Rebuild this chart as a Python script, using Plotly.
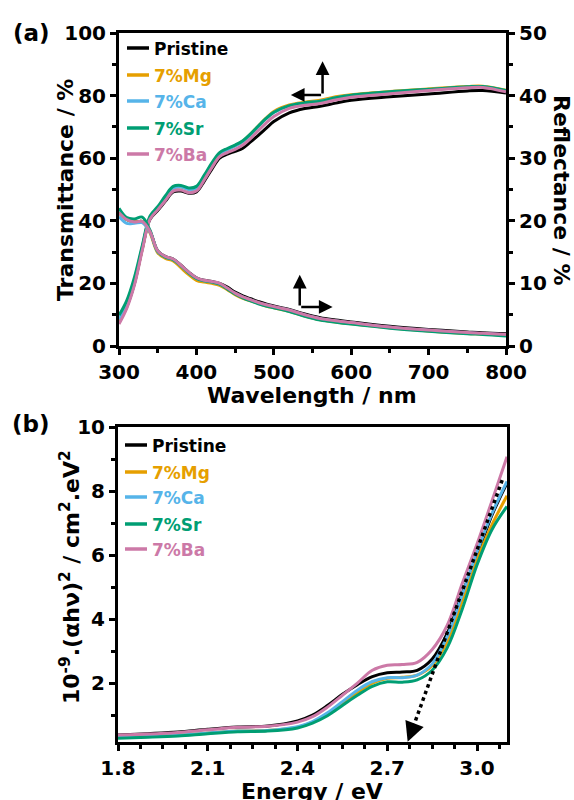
import plotly.graph_objects as go

# ---------------- data ----------------
series_names = ["Pristine", "7%Mg", "7%Ca", "7%Sr", "7%Ba"]
series_colors = ["#000000", "#E69F00", "#56B4E9", "#009E73", "#CC79A7"]

wavelength = [300, 310, 320, 330, 340, 350, 360, 370, 380, 390, 400, 410, 420, 430, 440,
              450, 460, 470, 480, 490, 500, 520, 540, 560, 580, 600, 650, 700, 750, 770, 800]

trans_pristine = [7.5, 12.5, 20.0, 31.0, 40.5, 43.3, 46.3, 49.2, 49.5, 48.8, 49.2, 52.6, 56.5, 60.0, 61.3,
                  62.2, 63.2, 65.2, 67.3, 69.5, 71.7, 74.5, 75.9, 76.6, 77.6, 78.5, 79.6, 80.5, 81.5, 81.6, 80.8]
trans_mg = [8.0, 13.0, 20.5, 31.0, 41.0, 44.0, 47.3, 50.4, 50.8, 50.0, 50.5, 54.0, 58.0, 61.3, 62.8,
            64.0, 65.4, 67.7, 70.3, 72.8, 74.9, 77.0, 77.9, 78.5, 79.6, 80.3, 81.3, 82.1, 82.9, 83.0, 81.7]
trans_ca = [8.5, 13.5, 21.0, 31.5, 41.0, 44.0, 47.3, 50.4, 50.8, 50.0, 50.5, 54.0, 58.0, 61.3, 62.7,
            63.9, 65.3, 67.5, 70.1, 72.6, 74.6, 76.7, 77.6, 78.2, 79.3, 80.0, 81.1, 81.9, 82.7, 82.8, 81.5]
trans_sr = [9.8, 14.5, 22.0, 32.0, 41.5, 44.5, 48.0, 51.0, 51.3, 50.5, 51.0, 54.5, 58.5, 61.8, 63.1,
            64.2, 65.6, 67.8, 70.3, 72.7, 74.7, 76.8, 77.7, 78.2, 79.3, 80.1, 81.2, 82.0, 82.8, 82.9, 81.6]
trans_ba = [7.0, 12.0, 19.5, 30.5, 40.5, 43.5, 46.5, 49.5, 49.8, 49.0, 49.5, 53.0, 57.0, 60.5, 61.8,
            62.8, 64.2, 66.3, 68.8, 71.2, 73.3, 75.9, 76.9, 77.5, 78.6, 79.5, 80.6, 81.6, 82.5, 82.6, 81.2]

refl_pristine = [21.3, 20.2, 19.8, 19.9, 18.3, 15.2, 14.3, 13.9, 12.9, 11.8, 10.9, 10.5, 10.3, 10.0, 9.4,
                 8.6, 8.0, 7.55, 7.1, 6.7, 6.4, 5.85, 5.1, 4.5, 4.15, 3.85, 3.15, 2.65, 2.25, 2.1, 1.95]
refl_mg = [21.3, 20.2, 19.8, 19.9, 18.1, 14.9, 14.0, 13.6, 12.5, 11.4, 10.5, 10.2, 10.0, 9.7, 9.0,
           8.2, 7.6, 7.2, 6.8, 6.4, 6.1, 5.55, 4.8, 4.2, 3.85, 3.55, 2.9, 2.4, 2.0, 1.9, 1.7]
refl_ca = [20.7, 19.6, 19.6, 19.7, 18.2, 15.1, 14.2, 13.8, 12.8, 11.7, 10.8, 10.4, 10.2, 9.9, 9.2,
           8.4, 7.8, 7.35, 6.9, 6.55, 6.25, 5.7, 4.95, 4.35, 4.0, 3.7, 3.0, 2.5, 2.1, 2.0, 1.8]
refl_sr = [22.0, 20.5, 20.3, 20.6, 18.5, 15.1, 14.2, 13.8, 12.8, 11.7, 10.8, 10.4, 10.2, 9.9, 9.1,
           8.3, 7.7, 7.2, 6.75, 6.4, 6.1, 5.5, 4.75, 4.15, 3.8, 3.5, 2.85, 2.35, 1.95, 1.85, 1.6]
refl_ba = [21.3, 20.2, 19.8, 19.9, 18.3, 15.2, 14.3, 13.9, 12.9, 11.8, 10.9, 10.5, 10.3, 10.0, 9.25,
           8.45, 7.85, 7.4, 6.95, 6.6, 6.3, 5.75, 5.0, 4.4, 4.05, 3.75, 3.05, 2.55, 2.15, 2.05, 1.85]

energy = [1.8, 1.9, 2.0, 2.1, 2.2, 2.3, 2.4, 2.45, 2.5, 2.55, 2.6, 2.65, 2.7, 2.75, 2.8,
          2.85, 2.9, 2.95, 3.0, 3.05, 3.1]
tauc_pristine = [0.38, 0.42, 0.47, 0.56, 0.63, 0.66, 0.82, 1.0, 1.3, 1.65, 1.95, 2.2, 2.32, 2.35, 2.4,
                 2.75, 3.55, 4.8, 6.0, 7.25, 8.25]
tauc_mg = [0.30, 0.33, 0.37, 0.44, 0.50, 0.52, 0.62, 0.78, 1.02, 1.35, 1.7, 2.0, 2.15, 2.18, 2.25,
           2.55, 3.3, 4.55, 5.85, 6.95, 7.85]
tauc_ca = [0.30, 0.33, 0.37, 0.44, 0.50, 0.52, 0.64, 0.80, 1.07, 1.42, 1.78, 2.05, 2.17, 2.17, 2.25,
           2.6, 3.45, 4.75, 6.1, 7.3, 8.3]
tauc_sr = [0.28, 0.31, 0.35, 0.42, 0.48, 0.50, 0.60, 0.75, 0.98, 1.3, 1.62, 1.9, 2.04, 2.03, 2.1,
           2.4, 3.1, 4.3, 5.7, 6.8, 7.52]
tauc_ba = [0.38, 0.41, 0.46, 0.54, 0.62, 0.65, 0.78, 0.95, 1.25, 1.62, 2.0, 2.4, 2.56, 2.58, 2.65,
           3.05, 3.8, 5.1, 6.35, 7.7, 9.07]

# tangent (band-gap extrapolation): start, end of dotted part, arrow tip
tangent_energy = [3.084, 2.787]
tangent_value = [8.34, 0.64]
tangent_tip = (2.768, 0.17)

x_ticks_a = [300, 400, 500, 600, 700, 800]
x_ticks_b = [1.8, 2.1, 2.4, 2.7, 3.0]

transmittance = [trans_pristine, trans_mg, trans_ca, trans_sr, trans_ba]
reflectance = [refl_pristine, refl_mg, refl_ca, refl_sr, refl_ba]
tauc = [tauc_pristine, tauc_mg, tauc_ca, tauc_sr, tauc_ba]

# ---------------- figure ----------------
FONT = "DejaVu Sans, Liberation Sans, Arial, sans-serif"
W, H = 574, 800

def px_x(p):
    return p / W

def px_y(p):
    return 1 - p / H

fig = go.Figure()
LW = 3

for name, col, t in zip(series_names, series_colors, transmittance):
    fig.add_trace(go.Scatter(x=wavelength, y=t, mode="lines", line=dict(color=col, width=LW, shape="spline"),
                             xaxis="x", yaxis="y", showlegend=False, name=name))
for name, col, r in zip(series_names, series_colors, reflectance):
    fig.add_trace(go.Scatter(x=wavelength, y=r, mode="lines", line=dict(color=col, width=LW, shape="spline"),
                             xaxis="x", yaxis="y2", showlegend=False, name=name))
for name, col, t in zip(series_names, series_colors, tauc):
    fig.add_trace(go.Scatter(x=energy, y=t, mode="lines", line=dict(color=col, width=LW, shape="spline"),
                             xaxis="x2", yaxis="y3", showlegend=False, name=name))

fig.add_trace(go.Scatter(x=tangent_energy, y=tangent_value, mode="lines",
                         line=dict(color="black", width=3.5, dash="dot"),
                         xaxis="x2", yaxis="y3", showlegend=False, cliponaxis=False))

tickfont = dict(family=FONT, size=20, color="black", weight="bold")
axis_common = dict(showline=True, linecolor="black", linewidth=3, ticks="outside", ticklen=6,
                   tickwidth=3, tickcolor="black", tickfont=tickfont, showgrid=False, zeroline=False,
                   automargin=False)

top_dom = [px_y(346), px_y(33)]
bot_dom = [px_y(742), px_y(427)]

fig.update_layout(
    template="none",
    width=W, height=H, margin=dict(l=0, r=0, t=0, b=0, pad=0), autosize=False,
    paper_bgcolor="white", plot_bgcolor="white",
    xaxis=dict(domain=[px_x(119), px_x(506)], range=[300, 800], tickvals=x_ticks_a, anchor="y",
               mirror=True, minor=dict(dtick=50, tick0=300, ticks="outside", ticklen=4, tickwidth=3,
                                       tickcolor="black"), **axis_common),
    yaxis=dict(domain=top_dom, range=[0, 100], dtick=20, tick0=0, anchor="x",
               minor=dict(dtick=10, ticks="outside", ticklen=4, tickwidth=3, tickcolor="black"),
               **axis_common),
    yaxis2=dict(domain=top_dom, range=[0, 50], dtick=10, tick0=0, anchor="x", overlaying="y", side="right",
                minor=dict(dtick=5, ticks="outside", ticklen=4, tickwidth=3, tickcolor="black"),
                **axis_common),
    xaxis2=dict(domain=[px_x(118), px_x(507)], range=[1.8, 3.1], tickvals=x_ticks_b,
                ticktext=[f"{v:.1f}" for v in x_ticks_b], anchor="y3", mirror=True,
                minor=dict(dtick=0.075, tick0=1.8, ticks="outside", ticklen=4, tickwidth=3,
                           tickcolor="black"), **axis_common),
    yaxis3=dict(domain=bot_dom, range=[0.16, 10], dtick=2, tick0=0, anchor="x2", mirror=True,
                minor=dict(dtick=1, tick0=0, ticks="outside", ticklen=4, tickwidth=3, tickcolor="black"),
                **axis_common),
)

annotations = []

def ann(text, x, y, angle=0, size=22, color="black", xanchor="center", yanchor="middle"):
    annotations.append(dict(text=text, x=px_x(x), y=px_y(y), xref="paper", yref="paper", showarrow=False,
                            textangle=angle, xanchor=xanchor, yanchor=yanchor, borderpad=0,
                            font=dict(family=FONT, size=size, color=color, weight="bold")))

ann("(a)", 31, 33, size=23)
ann("(b)", 31, 424, size=23)
ann("Transmittance / %", 65, 190, angle=-90)
ann("Reflectance / %", 562, 190, angle=90)
ann("Wavelength / nm", 312, 395)
ann("Energy / eV", 312, 791)
ann("10<sup>-9</sup>.(\u03b1h\u03bd)<sup>2</sup> / cm<sup>2</sup>.eV<sup>2</sup>", 70, 577, angle=-90)

# legends (built from series lists)
shapes = []
def legend(x0, x1, xt, ys):
    for name, col, yy in zip(series_names, series_colors, ys):
        shapes.append(dict(type="line", xref="paper", yref="paper", x0=px_x(x0), x1=px_x(x1),
                           y0=px_y(yy), y1=px_y(yy), line=dict(color=col, width=3.5)))
        ann(name, xt, yy + 1, size=17, color=col, xanchor="left")

legend(127, 149, 153, [48, 75, 101, 128, 154])
legend(125, 147, 151, [445, 472, 497, 524, 549])

# arrows
def arrow(x_tip, y_tip, x_tail, y_tail, xref, yref, width=2.5, size=1.1):
    annotations.append(dict(x=x_tip, y=y_tip, ax=x_tail, ay=y_tail, xref=xref, yref=yref, axref=xref,
                            ayref=yref, showarrow=True, arrowhead=2, arrowsize=size, arrowwidth=width,
                            arrowcolor="black", text=""))

arrow(563, 91, 563, 80.2, "x", "y")
arrow(522, 80.2, 563, 80.2, "x", "y")
arrow(533.5, 22.8, 533.5, 12.5, "x", "y")
arrow(576, 12.5, 533.5, 12.5, "x", "y")
arrow(tangent_tip[0], tangent_tip[1], tangent_energy[1], tangent_value[1], "x2", "y3", width=3, size=1.3)

fig.update_layout(annotations=annotations, shapes=shapes)
fig.write_html("out.html")
